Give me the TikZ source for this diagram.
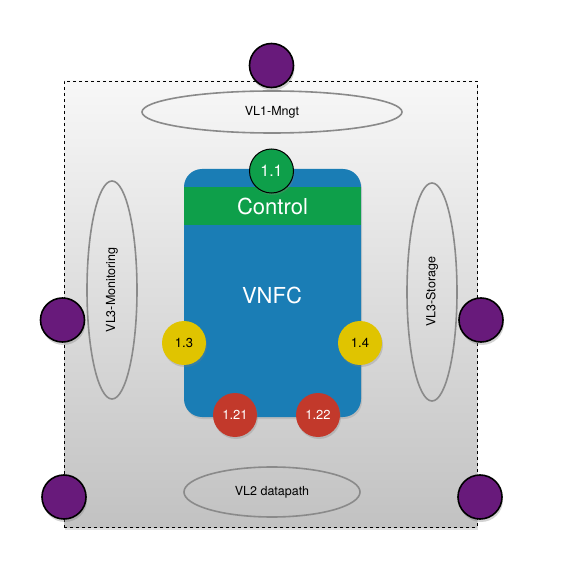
\documentclass[tikz,border=0pt]{standalone}
\usepackage{fontspec}
\setmainfont{TeX Gyre Heros}
\usetikzlibrary{shapes.geometric,shadows}
\definecolor{purp}{HTML}{681A7B}
\definecolor{grn}{HTML}{0E9F4A}
\definecolor{blu}{HTML}{1A7DB5}
\definecolor{yel}{HTML}{E0C400}
\definecolor{redc}{HTML}{C2392B}
\definecolor{ell}{HTML}{8A8A8A}
\begin{document}
\begin{tikzpicture}[x=1pt,y=-1pt,
  port/.style={circle,fill=purp,draw=black,line width=1.6pt,minimum size=44pt,inner sep=0pt,
    drop shadow={shadow xshift=1pt,shadow yshift=-3pt,opacity=0.35}},
  cp/.style={circle,minimum size=44pt,inner sep=0pt,font=\fontsize{13}{13}\selectfont,
    drop shadow={shadow xshift=1pt,shadow yshift=-2pt,opacity=0.3}},
  vl/.style={ellipse,draw=ell,line width=1.6pt,inner sep=0pt,font=\fontsize{12.5}{13}\selectfont}]
\useasboundingbox (0,0) rectangle (587,580);
% outer frame
\node[draw=black,dashed,line width=0.6pt,top color=white!97!black,bottom color=black!24,
  minimum width=413pt,minimum height=446pt,inner sep=0pt,
  drop shadow={shadow xshift=1pt,shadow yshift=-3pt,opacity=0.25}] (frame) at (270.5,304) {};
% ellipses
\node[vl,minimum width=260pt,minimum height=42pt] (vl1) at (272,112) {VL1-Mngt};
\node[vl,minimum width=176pt,minimum height=50pt] (vl2) at (272,492) {VL2 datapath};
\node[vl,minimum width=50pt,minimum height=218pt] (vl3m) at (112,290) {};
\node[rotate=90,font=\fontsize{12.5}{13}\selectfont] (vl3mt) at (vl3m.center) {VL3-Monitoring};
\node[vl,minimum width=50pt,minimum height=218pt] (vl3s) at (432,292) {};
\node[rotate=90,font=\fontsize{12.5}{13}\selectfont] (vl3st) at (vl3s.center) {VL3-Storage};
% VNFC box
\node[fill=blu,rounded corners=18pt,minimum width=177pt,minimum height=248pt,inner sep=0pt,
  drop shadow={shadow xshift=1pt,shadow yshift=-2pt,opacity=0.25}] (vnfc) at (272.5,293) {};
\node[fill=grn,minimum width=177pt,minimum height=38pt,inner sep=0pt,text=white,
  font=\fontsize{22}{22}\selectfont] (ctrl) at (272.5,206) {Control};
\node[text=white,font=\fontsize{22}{22}\selectfont] (vnfct) at (272,295) {VNFC};
% component ports
\node[cp,fill=grn,draw=black,line width=1pt,text=white,font=\fontsize{16}{16}\selectfont] (p11) at (271.5,171) {1.1};
\node[cp,fill=yel] (p13) at (184,343) {1.3};
\node[cp,fill=yel] (p14) at (360,343) {1.4};
\node[cp,fill=redc,text=white] (p121) at (235,415) {1.21};
\node[cp,fill=redc,text=white] (p122) at (318,415) {1.22};
% external ports
\node[port] (pt) at (271.5,65.5) {};
\node[port] (pl) at (62.5,320) {};
\node[port] (pr) at (481,320) {};
\node[port] (pbl) at (64,497) {};
\node[port] (pbr) at (480,497) {};
\end{tikzpicture}
\end{document}
